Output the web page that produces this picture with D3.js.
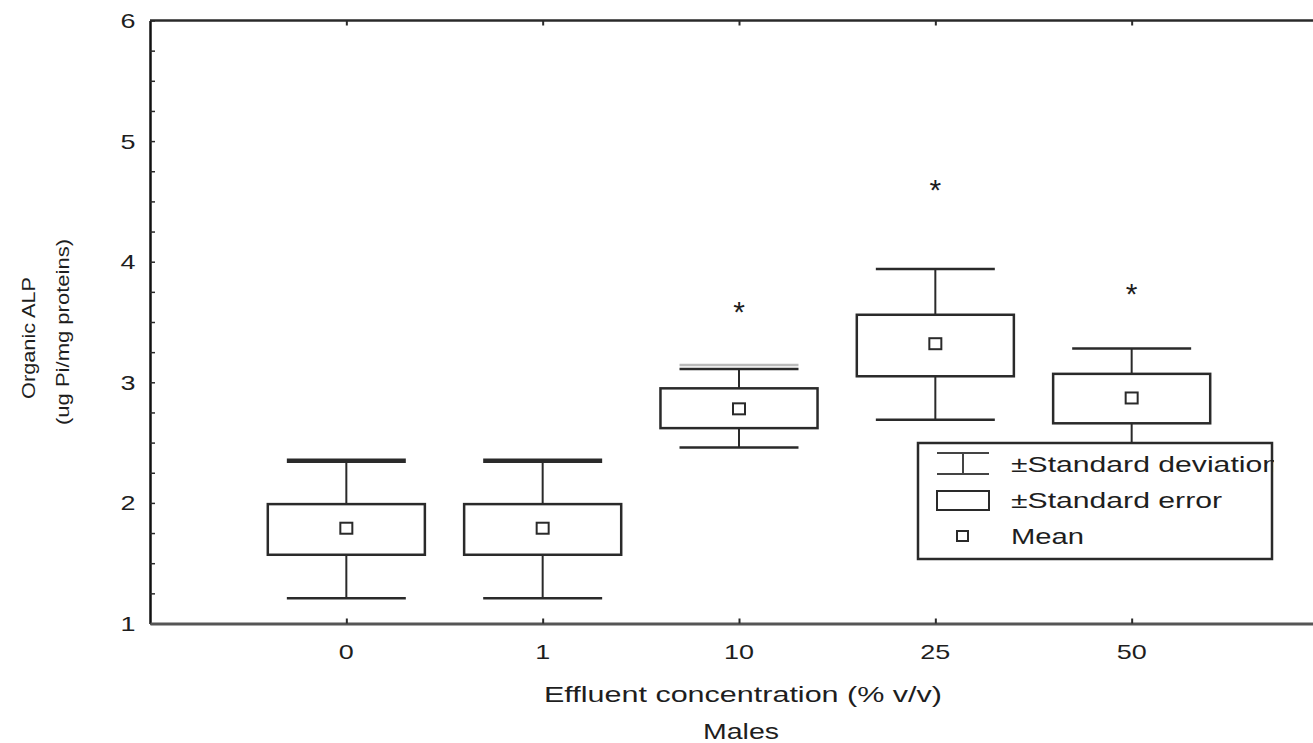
<!DOCTYPE html>
<html>
<head>
<meta charset="utf-8">
<script src="https://cdn.jsdelivr.net/npm/d3@7"></script>
<style>
  html, body { margin: 0; padding: 0; background: #fff; }
  svg { display: block; }
  text { font-family: "Liberation Sans", Arial, sans-serif; fill: #1e1e1e; }
</style>
</head>
<body>
<svg id="chart" width="1313" height="743"></svg>
<script>
// ---- data ----
const categories = ["0", "1", "10", "25", "50"];
const means  = [1.79, 1.79, 2.78, 3.32, 2.87];
const seLow  = [1.57, 1.57, 2.62, 3.05, 2.66];
const seHigh = [1.99, 1.99, 2.95, 3.56, 3.07];
const sdLow  = [1.21, 1.21, 2.46, 2.69, 2.46];
const sdHigh = [2.35, 2.35, 3.11, 3.94, 3.28];
const stars  = [null, null, 3.63, 4.64, 3.78];
const yTicks = [1, 2, 3, 4, 5, 6];
const legendLabels = ["±Standard deviation", "±Standard error", "Mean"];

const svg = d3.select("#chart");
const ink = "#2a2a2a";

const x = d3.scaleLinear().domain([-1, 5]).range([150, 1328]);
const y = d3.scaleLinear().domain([1, 6]).range([623.5, 20.5]);

const boxHalf = 0.4, capHalf = 0.303;

// frame top line
svg.append("line").attr("x1", 150).attr("x2", 1313).attr("y1", y(6)).attr("y2", y(6))
  .attr("stroke", ink).attr("stroke-width", 2.5);

// y axis
const yAxis = d3.axisLeft(y).tickValues(d3.range(1, 6.001, 0.25))
  .tickSizeInner(-5).tickSizeOuter(0).tickPadding(0).tickFormat("");
const gy = svg.append("g").attr("transform", "translate(150,0)").call(yAxis);
gy.select(".domain").attr("stroke", "#111").attr("stroke-width", 2.5);
gy.selectAll(".tick line").attr("stroke", ink).attr("stroke-width", 1.5);
svg.append("g").selectAll("text").data(yTicks).join("text")
  .attr("x", 128).attr("y", d => y(d)).attr("dy", "0.36em")
  .attr("text-anchor", "middle").attr("font-size", 21)
  .attr("textLength", d => String(d).length * 15).attr("lengthAdjust", "spacingAndGlyphs")
  .text(d => d);

// bottom axis
const xAxis = d3.axisBottom(x).tickValues(d3.range(categories.length))
  .tickSizeInner(-5).tickSizeOuter(0).tickFormat("");
const gx = svg.append("g").attr("transform", `translate(0,${y(1)})`).call(xAxis);
gx.select(".domain").attr("stroke", "#555").attr("stroke-width", 3);
gx.selectAll(".tick line").attr("stroke", ink).attr("stroke-width", 2);
svg.append("g").selectAll("text").data(categories).join("text")
  .attr("x", (d, i) => x(i)).attr("y", 651).attr("dy", "0.36em")
  .attr("text-anchor", "middle").attr("font-size", 21)
  .attr("textLength", d => d.length * 15).attr("lengthAdjust", "spacingAndGlyphs")
  .text(d => d);

// top ticks
const xTop = d3.axisTop(x).tickValues(d3.range(categories.length))
  .tickSizeInner(-5).tickSizeOuter(0).tickFormat("");
const gt = svg.append("g").attr("transform", `translate(0,${y(6)})`).call(xTop);
gt.select(".domain").remove();
gt.selectAll(".tick line").attr("stroke", ink).attr("stroke-width", 2);

// axis titles
svg.append("text").attr("x", 743).attr("y", 694).attr("dy", "0.36em")
  .attr("text-anchor", "middle").attr("font-size", 22)
  .attr("textLength", 398).attr("lengthAdjust", "spacingAndGlyphs")
  .text("Effluent concentration (% v/v)");
svg.append("text").attr("x", 741).attr("y", 731).attr("dy", "0.36em")
  .attr("text-anchor", "middle").attr("font-size", 22)
  .attr("textLength", 76).attr("lengthAdjust", "spacingAndGlyphs")
  .text("Males");
svg.append("text").attr("transform", "translate(29,338) rotate(-90)")
  .attr("text-anchor", "middle").attr("dy", "0.36em").attr("font-size", 18)
  .attr("textLength", 122).attr("lengthAdjust", "spacingAndGlyphs")
  .text("Organic ALP");
svg.append("text").attr("transform", "translate(63,332) rotate(-90)")
  .attr("text-anchor", "middle").attr("dy", "0.36em").attr("font-size", 18)
  .attr("textLength", 186).attr("lengthAdjust", "spacingAndGlyphs")
  .text("(ug Pi/mg proteins)");

// boxes
const g = svg.append("g");
categories.forEach((c, i) => {
  const cx = x(i);
  g.append("line").attr("x1", cx).attr("x2", cx).attr("y1", y(sdHigh[i])).attr("y2", y(seHigh[i]))
    .attr("stroke", ink).attr("stroke-width", 2);
  g.append("line").attr("x1", cx).attr("x2", cx).attr("y1", y(seLow[i])).attr("y2", y(sdLow[i]))
    .attr("stroke", ink).attr("stroke-width", 2);
  const thick = i < 2;
  g.append("line").attr("x1", x(i - capHalf)).attr("x2", x(i + capHalf))
    .attr("y1", y(sdHigh[i])).attr("y2", y(sdHigh[i]))
    .attr("stroke", ink).attr("stroke-width", thick ? 4.5 : 2.5);
  if (i === 2) {
    g.append("line").attr("x1", x(i - capHalf)).attr("x2", x(i + capHalf))
      .attr("y1", y(sdHigh[i]) - 4).attr("y2", y(sdHigh[i]) - 4)
      .attr("stroke", "#bbb").attr("stroke-width", 2.5);
  }
  g.append("line").attr("x1", x(i - capHalf)).attr("x2", x(i + capHalf))
    .attr("y1", y(sdLow[i])).attr("y2", y(sdLow[i]))
    .attr("stroke", ink).attr("stroke-width", 2.5);
  g.append("rect").attr("x", x(i - boxHalf)).attr("width", x(i + boxHalf) - x(i - boxHalf))
    .attr("y", y(seHigh[i])).attr("height", y(seLow[i]) - y(seHigh[i]))
    .attr("fill", "#fff").attr("stroke", ink).attr("stroke-width", 2.5);
  g.append("rect").attr("x", cx - 6).attr("y", y(means[i]) - 5.5).attr("width", 12).attr("height", 11)
    .attr("fill", "#fff").attr("stroke", ink).attr("stroke-width", 2);
  if (stars[i] !== null) {
    g.append("text").attr("x", cx).attr("y", y(stars[i])).attr("dy", "0.52em")
      .attr("text-anchor", "middle").attr("font-size", 30).text("*");
  }
});

// legend
const lg = svg.append("g");
lg.append("rect").attr("x", 918).attr("y", 443).attr("width", 354).attr("height", 116)
  .attr("fill", "#fff").attr("stroke", ink).attr("stroke-width", 2.5);
lg.append("clipPath").attr("id", "lclip").append("rect")
  .attr("x", 900).attr("y", 440).attr("width", 374).attr("height", 125);
lg.append("line").attr("x1", 937).attr("x2", 989).attr("y1", 453).attr("y2", 453).attr("stroke", "#444").attr("stroke-width", 2);
lg.append("line").attr("x1", 937).attr("x2", 989).attr("y1", 474).attr("y2", 474).attr("stroke", "#444").attr("stroke-width", 2);
lg.append("line").attr("x1", 963).attr("x2", 963).attr("y1", 453).attr("y2", 474).attr("stroke", "#444").attr("stroke-width", 2);
lg.append("rect").attr("x", 937).attr("y", 491).attr("width", 52).attr("height", 19)
  .attr("fill", "#fff").attr("stroke", ink).attr("stroke-width", 2);
lg.append("rect").attr("x", 957).attr("y", 531).attr("width", 11).attr("height", 10)
  .attr("fill", "#fff").attr("stroke", ink).attr("stroke-width", 2);
const rowsY = [464, 500, 536];
const lens = [268, 211, 73];
lg.append("g").attr("clip-path", "url(#lclip)").selectAll("text").data(legendLabels).join("text")
  .attr("x", 1011).attr("y", (d, i) => rowsY[i]).attr("dy", "0.36em")
  .attr("font-size", 22).attr("textLength", (d, i) => lens[i]).attr("lengthAdjust", "spacingAndGlyphs")
  .text(d => d);
</script>
</body>
</html>
